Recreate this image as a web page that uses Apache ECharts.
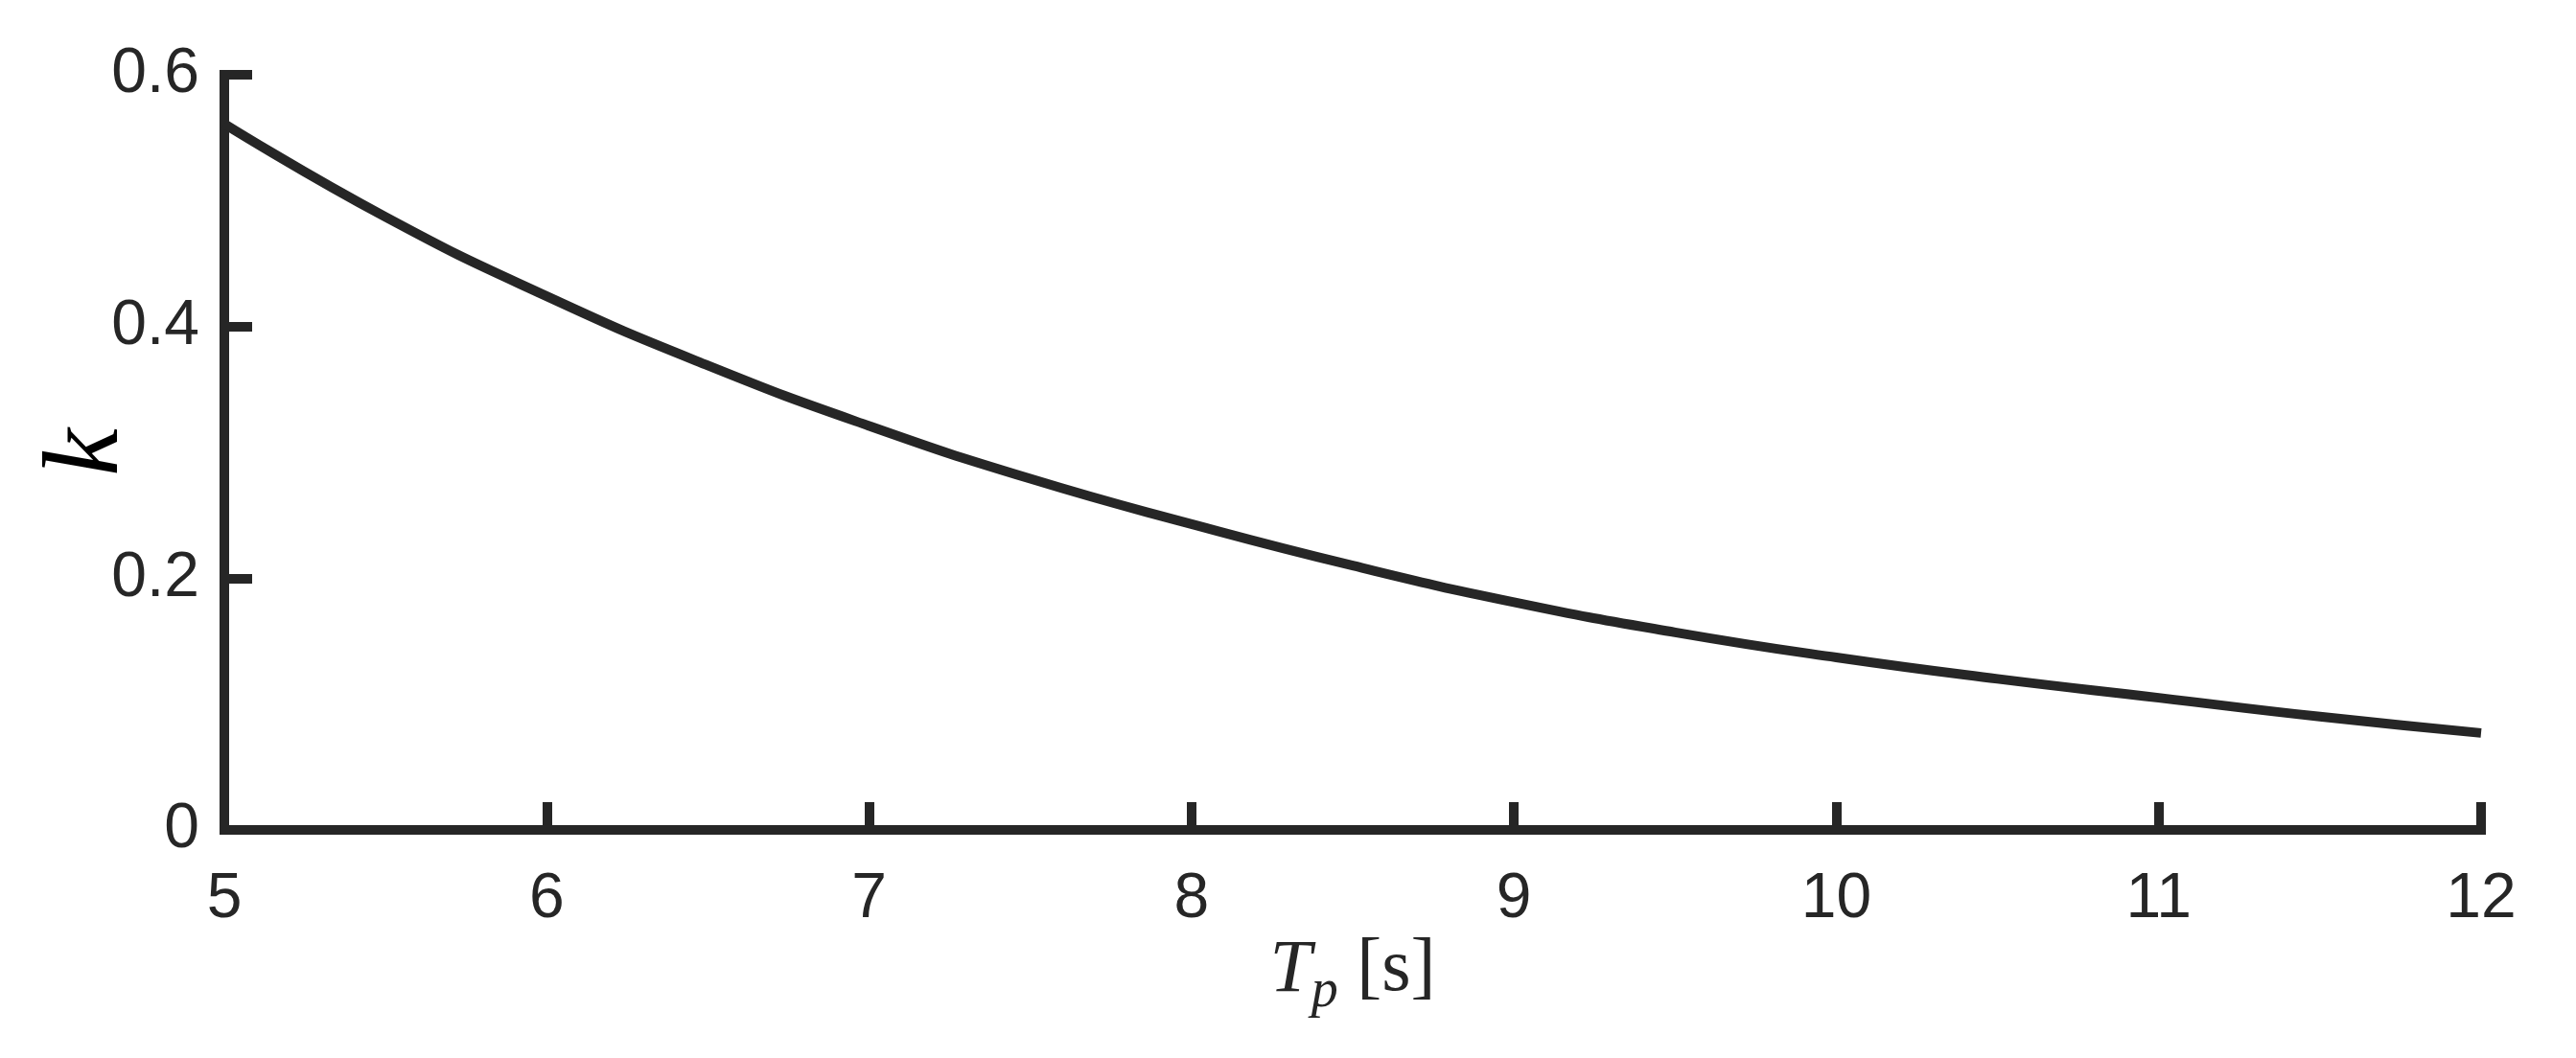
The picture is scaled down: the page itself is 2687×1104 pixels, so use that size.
<!DOCTYPE html>
<html>
<head>
<meta charset="utf-8">
<title>k vs Tp</title>
<script src="https://cdn.jsdelivr.net/npm/echarts@6/dist/echarts.min.js"></script>
<style>
  html, body { margin: 0; padding: 0; background: #fff; }
  #main { width: 2687px; height: 1104px; }
</style>
</head>
<body>
<div id="main"></div>
<script>
  // Tp [s] and k
  var tpValues = [5, 5.5, 6, 6.5, 7, 7.5, 8, 8.5, 9, 9.5, 10, 10.5, 11, 11.5, 12];
  var kValues = [0.561, 0.487, 0.424, 0.369, 0.321, 0.279, 0.243, 0.210, 0.181, 0.157, 0.137, 0.120, 0.105, 0.090, 0.077];

  var xTicks = [5, 6, 7, 8, 9, 10, 11, 12];
  var yTicks = [0, 0.2, 0.4, 0.6];

  var axisColor = '#262626';

  var seriesData = [];
  for (var i = 0; i < tpValues.length; i++) {
    seriesData.push([tpValues[i], kValues[i]]);
  }

  var myChart = echarts.init(document.getElementById('main'));
  var option = {
    backgroundColor: '#fff',
    animation: false,
    grid: {
      left: 234,
      right: 99,
      top: 78,
      bottom: 238,
      containLabel: false,
      outerBoundsMode: 'none'
    },
    xAxis: {
      type: 'value',
      min: xTicks[0],
      max: xTicks[xTicks.length - 1],
      interval: 1,
      name: '{i|T}{sub|p}{n| [s]}',
      nameLocation: 'middle',
      nameGap: 97,
      nameMoveOverlap: false,
      nameTextStyle: {
        rich: {
          i: {
            fontFamily: 'Liberation Serif',
            fontStyle: 'italic',
            fontSize: 78,
            lineHeight: 100,
            verticalAlign: 'middle',
            color: axisColor
          },
          sub: {
            fontFamily: 'Liberation Serif',
            fontStyle: 'italic',
            fontSize: 56,
            lineHeight: 66,
            verticalAlign: 'bottom',
            color: axisColor
          },
          n: {
            fontFamily: 'Liberation Serif',
            fontSize: 78,
            lineHeight: 100,
            verticalAlign: 'middle',
            color: axisColor
          }
        }
      },
      axisLine: {
        show: true,
        lineStyle: { color: axisColor, width: 10, cap: 'square' }
      },
      axisTick: {
        show: true,
        inside: true,
        length: 29,
        lineStyle: { color: axisColor, width: 10 }
      },
      axisLabel: {
        margin: 40,
        fontFamily: 'Liberation Sans',
        fontSize: 66,
        color: axisColor
      },
      splitLine: { show: false }
    },
    yAxis: {
      type: 'value',
      min: yTicks[0],
      max: yTicks[yTicks.length - 1],
      interval: 0.2,
      name: 'k',
      nameLocation: 'middle',
      nameGap: 85,
      nameRotate: 90,
      nameMoveOverlap: false,
      nameTextStyle: {
        fontFamily: 'Liberation Serif',
        fontStyle: 'italic',
        fontSize: 112,
        color: '#000'
      },
      axisLine: {
        show: true,
        lineStyle: { color: axisColor, width: 10, cap: 'square' }
      },
      axisTick: {
        show: true,
        inside: true,
        length: 29,
        lineStyle: { color: axisColor, width: 10 }
      },
      axisLabel: {
        margin: 26,
        fontFamily: 'Liberation Sans',
        fontSize: 66,
        color: axisColor
      },
      splitLine: { show: false }
    },
    series: [{
      type: 'line',
      data: seriesData,
      smooth: true,
      showSymbol: false,
      lineStyle: { color: axisColor, width: 10 }
    }]
  };
  myChart.setOption(option);
</script>
</body>
</html>
